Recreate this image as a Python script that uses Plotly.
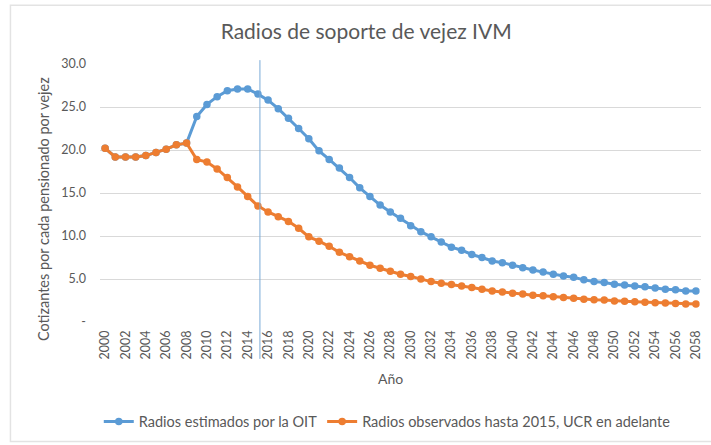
import plotly.graph_objects as go

years = list(range(2000, 2059))

oit = [20.2, 19.2, 19.2, 19.2, 19.35, 19.7, 20.1, 20.6, 20.8,
       23.9, 25.3, 26.2, 26.9, 27.1, 27.1, 26.5, 25.8, 24.8, 23.7, 22.5,
       21.3, 19.9, 18.9, 17.9, 16.8, 15.6, 14.6, 13.6, 12.8, 12.05,
       11.2, 10.5, 9.9, 9.3, 8.7, 8.35, 7.85, 7.5, 7.1, 6.9,
       6.6, 6.3, 6.05, 5.8, 5.55, 5.35, 5.2, 4.9, 4.7, 4.6,
       4.4, 4.3, 4.2, 4.1, 3.95, 3.8, 3.75, 3.6, 3.6]

ucr = [20.2, 19.2, 19.2, 19.2, 19.35, 19.7, 20.1, 20.6, 20.8,
       18.9, 18.6, 17.8, 16.8, 15.7, 14.6, 13.5, 12.8, 12.25, 11.7, 10.9,
       9.9, 9.4, 8.8, 8.1, 7.6, 7.1, 6.6, 6.25, 5.9, 5.55,
       5.3, 5.0, 4.7, 4.5, 4.35, 4.2, 4.0, 3.8, 3.6, 3.5,
       3.35, 3.25, 3.1, 3.05, 2.95, 2.85, 2.75, 2.65, 2.6, 2.55,
       2.45, 2.4, 2.35, 2.3, 2.25, 2.2, 2.15, 2.1, 2.1]

ytick_vals = [0, 5, 10, 15, 20, 25, 30]
ytick_text = ["-", "5.0", "10.0", "15.0", "20.0", "25.0", "30.0"]
xtick_vals = list(range(2000, 2059, 2))
split_year = 2015.2

title = "Radios de soporte de vejez IVM"
x_title = "Año"
y_title = "Cotizantes por cada pensionado por vejez"
names = ["Radios estimados por la OIT", "Radios observados hasta 2015, UCR en adelante"]

blue = "#5b9bd5"
orange = "#ed7d31"
grey = "#595959"
font = "Lato, Open Sans, sans-serif"

fig = go.Figure()
fig.add_trace(go.Scatter(x=years, y=oit, name=names[0], mode="lines+markers",
                         line=dict(color=blue, width=3), marker=dict(size=7.5, color=blue)))
fig.add_trace(go.Scatter(x=years, y=ucr, name=names[1], mode="lines+markers",
                         line=dict(color=orange, width=3), marker=dict(size=7.5, color=orange)))

fig.add_shape(type="line", xref="x", yref="paper", x0=split_year, x1=split_year,
              y0=-0.143, y1=1.015, line=dict(color="#7aaad8", width=1))

# outer chart border
fig.add_shape(type="rect", xref="paper", yref="paper", x0=-0.149, x1=1.03,
              y0=-0.463, y1=1.228, line=dict(color="#e3e3e3", width=1.5), layer="below")

fig.add_annotation(text=y_title, xref="paper", yref="paper", x=-0.093, y=0.438,
                   xanchor="center", yanchor="middle", textangle=-90, showarrow=False,
                   font=dict(size=14.5, color=grey, family=font))
fig.add_annotation(text=x_title, xref="paper", yref="paper", x=0.483, y=-0.22,
                   xanchor="center", yanchor="middle", showarrow=False,
                   font=dict(size=14, color=grey, family=font))

fig.update_layout(
    width=711, height=445,
    margin=dict(l=100, r=8, t=64, b=122),
    paper_bgcolor="white", plot_bgcolor="white",
    font=dict(family=font, color=grey, size=12),
    title=dict(text=title, x=0.515, xanchor="center", y=0.928, yanchor="middle",
               font=dict(size=21, color=grey, family=font)),
    showlegend=True,
    legend=dict(orientation="h", x=0.478, xanchor="center", y=-0.386, yanchor="middle",
                font=dict(size=14.5, color=grey), tracegroupgap=0),
    xaxis=dict(range=[1999.5, 2058.5], tickvals=xtick_vals, tickangle=-90,
               tickfont=dict(size=12.5, color=grey), showgrid=False, zeroline=False,
               showline=False, ticks="", ticklabelstandoff=5),
    yaxis=dict(range=[0, 30], tickvals=ytick_vals, ticktext=ytick_text,
               tickfont=dict(size=12.5, color=grey), showgrid=True, gridcolor="#d9d9d9",
               gridwidth=1, zeroline=False, showline=False, ticks="", ticklabelstandoff=13),
)

fig.write_html("out.html", config={"displayModeBar": False},
               post_script="document.body.style.margin='0px';")
